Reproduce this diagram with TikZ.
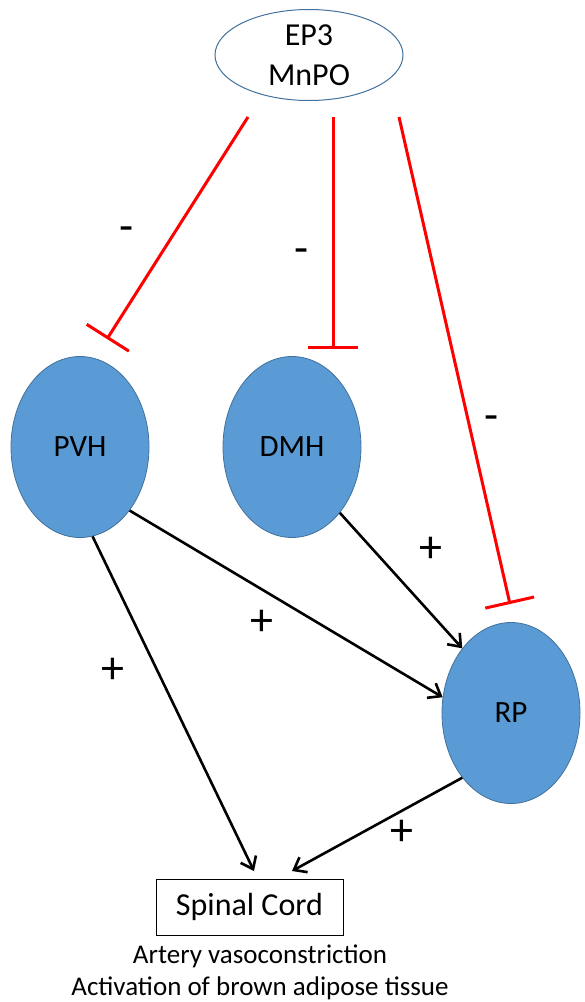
\documentclass[tikz,border=0pt]{standalone}
\usepackage{fontspec}
\setmainfont{Carlito}
\usetikzlibrary{arrows.meta,shapes.geometric}
\definecolor{nodeblue}{HTML}{5B9BD5}
\definecolor{nodeedge}{HTML}{41719C}
\tikzset{
  region/.style={ellipse,fill=nodeblue,draw=nodeedge,line width=0.8pt,inner sep=0pt,minimum width=138pt,minimum height=181pt,font=\fontsize{31}{36}\selectfont},
  inhib/.style={draw=red,line width=3pt,-{Bar[width=50pt,line width=3pt]}},
  excit/.style={draw=black,line width=2.6pt,-{Straight Barb[length=11pt,width=17pt,line width=2.6pt]}},
  sign/.style={font=\fontsize{46}{50}\selectfont,inner sep=0pt},
  effect/.style={font=\fontsize{27}{32}\selectfont,anchor=base,inner sep=0pt},
}
\begin{document}
\begin{tikzpicture}[x=1pt,y=-1pt]
\useasboundingbox (0,0) rectangle (585,1002);
\node[ellipse,draw=nodeedge,line width=1pt,minimum width=188pt,minimum height=91pt,inner sep=0pt,align=center,font=\fontsize{32}{40}\selectfont] (ep3) at (309,55) {EP3\\MnPO};
\node[region] (pvh) at (80,447) {PVH};
\node[region] (dmh) at (292,447) {DMH};
\node[region] (rp) at (511,713) {RP};
\node[draw,line width=1pt,minimum width=187pt,minimum height=56pt,inner sep=0pt,font=\fontsize{32}{36}\selectfont] (sc) at (249.5,907) {Spinal Cord};
\node[effect] (eff1) at (260,963) {Artery vasoconstriction};
\node[effect] (eff2) at (260,995) {Activation of brown adipose tissue};
% inhibitory connections
\coordinate (i1s) at (248,117); \coordinate (i1e) at (107,339);
\coordinate (i2s) at (333,117); \coordinate (i2e) at (333,349);
\coordinate (i3s) at (399,117); \coordinate (i3e) at (510,604);
\draw[inhib] (i1s) -- (i1e);
\draw[inhib] (i2s) -- (i2e);
\draw[inhib] (i3s) -- (i3e);
% excitatory connections
\coordinate (sc1) at (254,871); \coordinate (sc2) at (292,871);
\draw[excit] (pvh.-82) -- (sc1);
\draw[excit] (pvh.-52) -- (rp.167);
\draw[excit] (dmh.-54) -- (rp.127);
\draw[excit] (rp.-127) -- (sc2);
% signs
\node[sign] (m1) at (127,234) {-};
\node[sign] (m2) at (302,256) {-};
\node[sign] (m3) at (492,423) {-};
\node[sign] (p1) at (113,671) {+};
\node[sign] (p2) at (262,623) {+};
\node[sign] (p3) at (431,550) {+};
\node[sign] (p4) at (402,833) {+};
\end{tikzpicture}
\end{document}
